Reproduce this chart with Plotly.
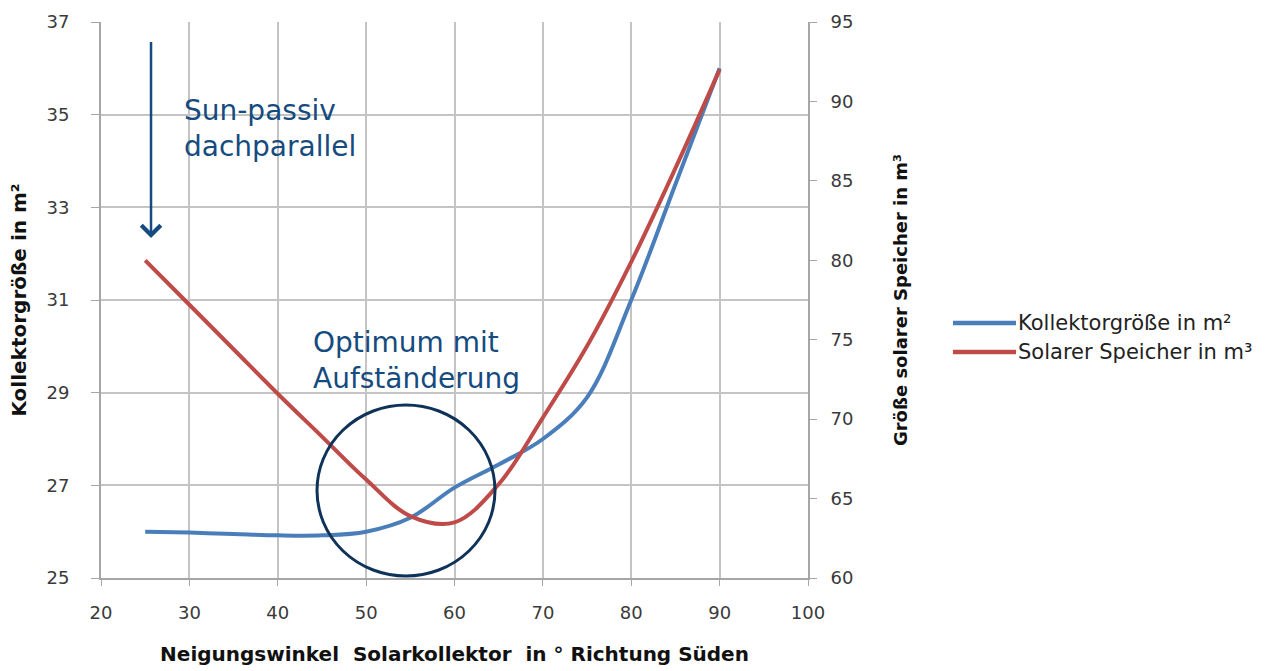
import plotly.graph_objects as go

# Tilt angle of the collector (degrees, facing south)
angle = [25, 30, 35, 40, 45, 50, 55, 60, 65, 70, 75, 80, 85, 90]
# Collector area in m² (left axis)
collector_m2 = [26.0, 25.98, 25.95, 25.92, 25.92, 26.0, 26.3, 26.95, 27.45, 28.0, 28.9, 31.0, 33.5, 36.0]
# Solar storage volume in m³ (right axis)
storage_m3 = [80.0, 77.2, 74.4, 71.6, 68.9, 66.2, 63.9, 63.5, 65.9, 70.1, 74.6, 79.9, 85.8, 92.0]

x_ticks = [20, 30, 40, 50, 60, 70, 80, 90, 100]
left_ticks = [25, 27, 29, 31, 33, 35, 37]
right_ticks = [60, 65, 70, 75, 80, 85, 90, 95]

BLUE = "#4a7ebb"
RED = "#be4b48"
NAVY = "#154b7e"
GRID = "#c4c4c4"
AXIS = "#a6a6a6"
TICKFONT = dict(family="DejaVu Sans, sans-serif", size=18, color="#3a3a3a")
TITLE_X = dict(family="DejaVu Sans, sans-serif", size=20, color="#111111")
TITLE_Y = dict(family="DejaVu Sans, sans-serif", size=20, color="#111111")
TITLE_Y2 = dict(family="DejaVu Sans, sans-serif", size=18, color="#111111")

fig = go.Figure()
fig.add_trace(go.Scatter(
    x=angle, y=collector_m2, mode="lines", name="Kollektorgröße in m²",
    line=dict(color=BLUE, width=4, shape="spline"), yaxis="y", showlegend=False))
fig.add_trace(go.Scatter(
    x=angle, y=storage_m3, mode="lines", name="Solarer Speicher in m³",
    line=dict(color=RED, width=4, shape="spline"), yaxis="y2", showlegend=False))

fig.update_layout(
    width=1285, height=671,
    margin=dict(l=101, r=477, t=22, b=93),
    plot_bgcolor="white", paper_bgcolor="white",
    xaxis=dict(range=[20, 100], tickvals=x_ticks, showgrid=True, gridcolor=GRID, gridwidth=2,
               showline=True, linecolor=AXIS, linewidth=2, ticks="outside", ticklen=6,
               tickcolor=AXIS, tickfont=TICKFONT, zeroline=False, ticklabelstandoff=11,
               automargin=False,
               title=dict(text="<b>Neigungswinkel  Solarkollektor  in ° Richtung Süden</b>",
                          font=TITLE_X, standoff=25)),
    yaxis=dict(range=[25, 37], tickvals=left_ticks, showgrid=True, gridcolor=GRID, gridwidth=2,
               showline=True, linecolor=AXIS, linewidth=2, ticks="outside", ticklen=8,
               tickcolor=AXIS, tickfont=TICKFONT, zeroline=False, ticklabelstandoff=18,
               automargin=False,
               title=dict(text="<b>Kollektorgröße in m²</b>", font=TITLE_Y, standoff=14)),
    yaxis2=dict(range=[60, 95], tickvals=right_ticks, overlaying="y", side="right",
                showgrid=False, showline=True, linecolor=AXIS, linewidth=2,
                ticks="outside", ticklen=7, tickcolor=AXIS, tickfont=TICKFONT,
                zeroline=False, ticklabelstandoff=10, automargin=False,
                title=dict(text="<b>Größe solarer Speicher in m³</b>", font=TITLE_Y2, standoff=42)),
)

# Arrow marking the roof-parallel mounting
fig.add_annotation(x=25.66, y=32.34, ax=25.66, ay=36.6, xref="x", yref="y", axref="x", ayref="y",
                   text="", showarrow=True, arrowhead=4, arrowsize=1.5, arrowwidth=2.5,
                   arrowcolor=NAVY)

ANNFONT = dict(family="DejaVu Sans, sans-serif", size=28, color=NAVY)
fig.add_annotation(x=0.115, y=0.875, xref="paper", yref="paper", xanchor="left", yanchor="top",
                   text="Sun-passiv<br>dachparallel", showarrow=False, align="left", font=ANNFONT)
fig.add_annotation(x=0.297, y=0.457, xref="paper", yref="paper", xanchor="left", yanchor="top",
                   text="Optimum mit<br>Aufständerung", showarrow=False, align="left", font=ANNFONT)

# Circle around the optimum region
fig.add_shape(type="circle", xref="paper", yref="paper",
              x0=(317 - 101) / 707, x1=(495 - 101) / 707,
              y0=(578 - 576) / 556, y1=(578 - 405) / 556,
              line=dict(color="#0f3358", width=3))

# Legend drawn as line samples with labels
LEGFONT = dict(family="DejaVu Sans, sans-serif", size=21, color="#222222")
for label, color, ypix in [("Kollektorgröße in m²", BLUE, 323), ("Solarer Speicher in m³", RED, 352)]:
    yp = (578 - ypix) / 556
    fig.add_shape(type="line", xref="paper", yref="paper",
                  x0=(953 - 101) / 707, x1=(1016 - 101) / 707, y0=yp, y1=yp,
                  line=dict(color=color, width=4.5))
    fig.add_annotation(x=(1016 - 101) / 707, y=yp, xref="paper", yref="paper",
                       xanchor="left", yanchor="middle", text=label, showarrow=False,
                       font=LEGFONT)

fig.write_html("out.html")
